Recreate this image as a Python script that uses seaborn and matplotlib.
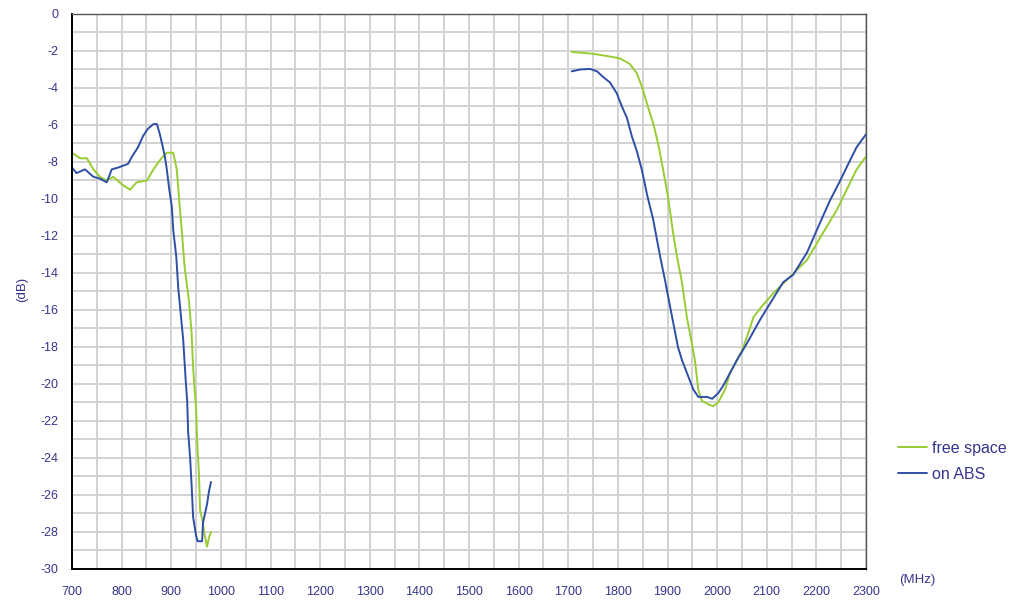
import matplotlib
matplotlib.use("Agg")
import matplotlib.pyplot as plt
from matplotlib.ticker import MultipleLocator
import seaborn as sns
import pandas as pd

# Return loss of the antenna, low band and high band sweeps (MHz, dB)
f1_free = [700, 716, 730, 743, 756, 770, 783, 800, 817, 830, 851, 864, 880, 891, 904,
           911, 917, 922, 927, 936, 941, 944, 947, 950, 952, 956, 958, 963, 966, 972,
           976, 980]
d1_free = [-7.5, -7.8, -7.8, -8.4, -8.8, -9.0, -8.8, -9.2, -9.5, -9.1, -9.0, -8.4,
           -7.8, -7.5, -7.5, -8.4, -10.4, -12.0, -13.7, -15.6, -17.3, -19.1, -20.3,
           -21.3, -23.0, -25.0, -26.8, -27.4, -28.0, -28.8, -28.3, -28.0]

f1_abs = [700, 709, 726, 743, 756, 770, 780, 793, 813, 821, 833, 843, 853, 864, 871,
          877, 883, 887, 891, 896, 901, 904, 910, 914, 919, 924, 929, 932, 934, 938,
          941, 944, 950, 953, 962, 964, 968, 972, 976, 980]
d1_abs = [-8.3, -8.6, -8.4, -8.8, -8.9, -9.1, -8.4, -8.3, -8.1, -7.7, -7.2, -6.6,
          -6.2, -5.95, -5.95, -6.5, -7.2, -7.7, -8.4, -9.5, -10.4, -11.7, -13.1,
          -14.8, -16.2, -17.6, -19.8, -20.9, -22.6, -24.0, -25.5, -27.2, -28.2,
          -28.5, -28.5, -27.5, -27.0, -26.5, -25.8, -25.3]

f2_free = [1707, 1750, 1784, 1804, 1824, 1838, 1848, 1858, 1871, 1881, 1891, 1901,
           1911, 1919, 1929, 1939, 1949, 1955, 1962, 1969, 1982, 1992, 2002, 2010,
           2016, 2026, 2040, 2050, 2062, 2073, 2090, 2113, 2147, 2181, 2214, 2241,
           2261, 2281, 2300]
d2_free = [-2.05, -2.15, -2.3, -2.4, -2.7, -3.2, -3.9, -4.8, -5.9, -7.0, -8.4, -9.9,
           -11.8, -13.1, -14.5, -16.4, -17.8, -18.7, -20.3, -20.9, -21.1, -21.2,
           -21.0, -20.6, -20.3, -19.4, -18.7, -18.2, -17.3, -16.4, -15.8, -15.1,
           -14.2, -13.3, -11.8, -10.6, -9.5, -8.4, -7.7]

f2_abs = [1707, 1724, 1744, 1758, 1770, 1784, 1798, 1808, 1818, 1828, 1838, 1848,
          1859, 1871, 1885, 1895, 1905, 1921, 1929, 1939, 1952, 1962, 1980, 1990,
          2002, 2012, 2026, 2040, 2060, 2087, 2133, 2153, 2181, 2207, 2227, 2248,
          2268, 2281, 2300]
d2_abs = [-3.1, -3.0, -2.97, -3.1, -3.4, -3.7, -4.3, -5.0, -5.6, -6.6, -7.4, -8.4,
          -9.8, -11.1, -13.1, -14.4, -15.8, -18.0, -18.7, -19.4, -20.3, -20.7, -20.7,
          -20.8, -20.5, -20.1, -19.4, -18.7, -17.8, -16.5, -14.5, -14.1, -12.9,
          -11.3, -10.1, -9.0, -7.9, -7.2, -6.5]

series_names = ["free space", "on ABS"]
series_colors = ["#99cc33", "#2f4fa6"]
label_color = "#35358c"

frames = []
for name, band, f, d in [
    ("free space", "low", f1_free, d1_free),
    ("free space", "high", f2_free, d2_free),
    ("on ABS", "low", f1_abs, d1_abs),
    ("on ABS", "high", f2_abs, d2_abs),
]:
    frames.append(pd.DataFrame({"freq": f, "loss": d, "series": name, "band": band}))
df = pd.concat(frames, ignore_index=True)

sns.set_theme(style="white")
plt.rcParams["font.family"] = ["Liberation Sans", "DejaVu Sans"]
plt.rcParams["axes.unicode_minus"] = False

fig = plt.figure(figsize=(10.16, 6.03), dpi=100)
ax = fig.add_axes([0.0709, 0.0564, 0.7815, 0.9204])

sns.lineplot(data=df, x="freq", y="loss", hue="series", units="band",
             estimator=None, sort=False, hue_order=series_names,
             palette=series_colors, linewidth=1.4, ax=ax)

ax.set_xlim(700, 2300)
ax.set_ylim(-30, 0)
ax.xaxis.set_major_locator(MultipleLocator(100))
ax.xaxis.set_minor_locator(MultipleLocator(50))
ax.yaxis.set_major_locator(MultipleLocator(2))
ax.yaxis.set_minor_locator(MultipleLocator(1))
ax.grid(True, which="both", color="#d2d2d2", linewidth=1.4)
ax.set_axisbelow(True)

ax.tick_params(axis="both", which="major", direction="in", length=4, width=1.2,
               color="black", labelsize=9, labelcolor=label_color)
ax.tick_params(axis="x", which="major", pad=12)
ax.tick_params(axis="y", which="major", pad=10)
ax.tick_params(axis="both", which="minor", length=0)
ax.tick_params(top=False, right=False)

for side in ["left", "bottom"]:
    ax.spines[side].set_color("black")
    ax.spines[side].set_linewidth(1.4)
for side in ["top", "right"]:
    ax.spines[side].set_color("#555555")
    ax.spines[side].set_linewidth(1.0)

ax.set_xlabel("")
ax.set_ylabel("")
fig.text(0.022, 0.52, "(dB)", rotation=90, ha="center", va="center",
         fontsize=9.5, color=label_color)
fig.text(0.903, 0.038, "(MHz)", ha="center", va="center",
         fontsize=9.5, color=label_color)

handles, labels = ax.get_legend_handles_labels()
ax.legend(handles, labels, loc="center left", bbox_to_anchor=(0.878, 0.235),
          bbox_transform=fig.transFigure, frameon=False, fontsize=11.5,
          handlelength=1.8, handletextpad=0.3, labelspacing=0.7,
          labelcolor=label_color, borderaxespad=0)

fig.savefig("out.png", dpi=100)
